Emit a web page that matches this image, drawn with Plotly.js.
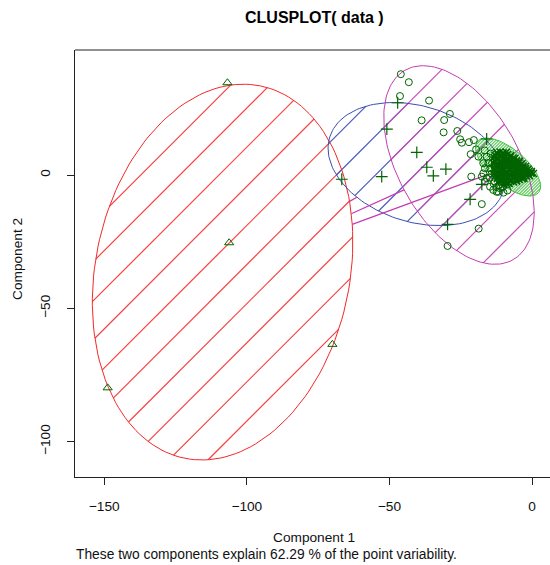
<!DOCTYPE html>
<html><head><meta charset="utf-8">
<script src="https://cdn.plot.ly/plotly-3.0.1.min.js"></script>
<style>html,body{margin:0;padding:0;background:#fff;overflow:hidden}#plot{width:550px;height:565px}</style>
</head><body><div id="plot"></div>
<script>
// ---------------- DATA ----------------
// cluster 1 points (triangles)
const c1X = [-106.8, -106.2, -148.8, -70.0];
const c1Y = [34.6, -25.4, -79.8, -63.5];
// cluster 2 points (plus)
const c2X = [-47.1, -50.9, -40.4, -36.9, -34.6, -30.2, -52.7, -66.7, -17.6, -21.7, -29.6, -15.9];
const c2Y = [27.1, 17.2, 8.5, 2.9, -0.3, 2.2, -0.6, -1.6, -3.5, -9.1, -18.5, 13.5];
// cluster 3 points (circles)
const c3X = [-46.0, -43.2, -46.3, -36.1, -28.8, -30.8, -38.7, -26.2, -31.0, -25.2, -24.6, -22.1, -20.4,
             -21.5, -19.6, -21.3, -17.6, -18.7, -29.6, -12.4,
             -18.8, -17.1, -16.5, -17.6, -16.5, -14.7, -13.6, -11.2, -11.8,
             -15.9, -15.3, -17.1, -15.9, -13.0, -16.6, -14.5, -10.0, -8.6,
             -14.2, -14.6, -14.0, -14.8, -12.5, -11.5, -13.5, -10.3];
const c3Y = [37.8, 34.8, 29.6, 27.9, 22.9, 20.6, 20.5, 16.5, 16.0, 13.4, 12.1, 12.3, 13.1,
             7.8, 9.6, -0.6, -10.9, -20.1, -26.6, -6.3,
             6.9, 4.4, 2.5, -0.6, -2.5, -4.4, -5.6, -5.0, -6.3,
             6.9, 4.4, 0.6, -1.2, -2.5, 9.2, 8.0, -6.6, -5.8,
             0.5, 2.5, 4.5, -1.0, -4.5, -3.8, -3.2, -4.6];
// cluster 4 points (x)
const c4X = [-12.3, -11.2, -10.1, -9.0,
  -13.0, -11.9, -10.8, -9.6, -8.5, -7.5,
  -13.3, -12.1, -11.0, -9.9, -8.8, -7.7, -6.6, -6.0,
  -13.1, -12.0, -10.9, -9.8, -8.7, -7.6, -6.5, -5.4, -4.5,
  -13.4, -12.3, -11.2, -10.1, -9.0, -7.9, -6.8, -5.7, -4.6, -3.5,
  -13.0, -11.9, -10.8, -9.7, -8.6, -7.5, -6.4, -5.3, -4.2, -3.1, -2.3,
  -13.3, -12.2, -11.1, -10.0, -8.9, -7.8, -6.7, -5.6, -4.5, -3.4, -2.3, -1.4,
  -13.1, -12.0, -10.9, -9.8, -8.7, -7.6, -6.5, -5.4, -4.3, -3.2, -2.1, -1.0, -0.2,
  -13.4, -12.3, -11.2, -10.1, -9.0, -7.9, -6.8, -5.7, -4.6, -3.5, -2.4, -1.3, -0.3, 0.5,
  -13.0, -11.9, -10.8, -9.7, -8.6, -7.5, -6.4, -5.3, -4.2, -3.1, -2.0, -0.9,
  -12.2, -11.1, -10.0, -8.9, -7.8, -6.7, -5.6, -4.5, -3.4, -2.8,
  -11.9, -10.8, -9.7, -8.6, -7.5, -6.4, -5.4,
  -9.9, -8.8, -8.0];
const c4Y = [8.4, 8.6, 8.3, 8.5,
  7.4, 7.6, 7.3, 7.5, 7.7, 7.3,
  6.6, 6.4, 6.7, 6.5, 6.3, 6.6, 6.4, 6.2,
  5.4, 5.6, 5.3, 5.5, 5.7, 5.4, 5.6, 5.3, 5.1,
  4.5, 4.3, 4.6, 4.4, 4.6, 4.3, 4.5, 4.7, 4.4, 4.2,
  3.6, 3.4, 3.5, 3.7, 3.4, 3.6, 3.3, 3.5, 3.7, 3.4, 3.2,
  2.4, 2.6, 2.3, 2.5, 2.7, 2.4, 2.6, 2.3, 2.5, 2.7, 2.4, 2.2,
  1.6, 1.4, 1.5, 1.7, 1.4, 1.6, 1.3, 1.5, 1.7, 1.4, 1.6, 1.5, 1.3,
  0.5, 0.3, 0.6, 0.4, 0.6, 0.3, 0.5, 0.7, 0.4, 0.6, 0.3, 0.5, 0.7, 0.6,
  -0.4, -0.6, -0.3, -0.5, -0.7, -0.4, -0.6, -0.3, -0.5, -0.7, -0.4, -0.3,
  -1.4, -1.5, -1.7, -1.4, -1.6, -1.3, -1.5, -1.7, -1.4, -1.2,
  -2.6, -2.3, -2.5, -2.7, -2.4, -2.6, -2.3,
  -3.7, -3.4, -3.2];
// cluster ellipses: centre and two conjugate semi-axis vectors (data units)
const ellCx = [-108.5, -40.5, -25.6, -8.4];
const ellCy = [-36.4, 4.1, 3.75, 3.0];
const ellAx = [13.3, 30.4, -19.0, 10.7];
const ellAy = [69.8, -10.2, 35.5, -9.6];
const ellBx = [43.7, -6.1, 18.3, -4.0];
const ellBy = [-9.5, -20.7, 11.2, -5.1];
// shading line spacing per cluster (x units along y = 0)
const hatchStep = [13.72, 13.72, 13.72, 1.08];
const xTicks = [-150, -100, -50, 0];
const yTicks = [-100, -50, 0];
const titleText = 'CLUSPLOT( data )';
const xLabel = 'Component 1';
const yLabel = 'Component 2';
const subText = 'These two components explain 62.29 % of the point variability.';

// ---------------- STYLE / LAYOUT ----------------
const W = 550, H = 565;
const M = {l: 75, r: 0, t: 50, b: 88};
const xRange = [-160.25, 6.31], yRange = [-113.23, 46.87];
const ellCol = ['#F42828', '#3A4DB2', '#C23DB2', '#3EC43E'];
const hatchCol = ['#F84040', '#4A5CBA', '#C84CB8', '#62CC62'];
const hatchWidth = [1.2, 1.2, 1.2, 1.2];
const ptCol = '#006400';
const FONT = 'Liberation Sans, Arial, Helvetica, sans-serif';

const pw = W - M.l - M.r, ph = H - M.t - M.b;
const pxX = pw / (xRange[1] - xRange[0]);
const pxY = ph / (yRange[1] - yRange[0]);

function ell(i) {
  return {cx: ellCx[i], cy: ellCy[i], ax: ellAx[i], ay: ellAy[i], bx: ellBx[i], by: ellBy[i]};
}
function toLocal(e, vx, vy) {
  const det = e.ax * e.by - e.bx * e.ay;
  return [(e.by * vx - e.bx * vy) / det, (-e.ay * vx + e.ax * vy) / det];
}
function outline(e) {
  const xs = [], ys = [];
  for (let k = 0; k <= 160; k++) {
    const t = 2 * Math.PI * k / 160;
    xs.push(e.cx + e.ax * Math.cos(t) + e.bx * Math.sin(t));
    ys.push(e.cy + e.ay * Math.cos(t) + e.by * Math.sin(t));
  }
  return [xs, ys];
}
// shading segments (45 degrees on screen) clipped to an ellipse
function hatchSegs(e, step) {
  const dx = 1 / pxX, dy = 1 / pxY, r = dx / dy;
  const hw = Math.hypot(e.ax, e.bx), hh = Math.hypot(e.ay, e.by);
  const lo = e.cx - hw - (e.cy + hh) * r, hi = e.cx + hw - (e.cy - hh) * r;
  const segs = [];
  const q1 = toLocal(e, dx, dy);
  for (let k = Math.ceil(lo / step); k * step <= hi; k++) {
    const x0 = k * step;
    const q0 = toLocal(e, x0 - e.cx, -e.cy);
    const A = q1[0] * q1[0] + q1[1] * q1[1];
    const B = 2 * (q0[0] * q1[0] + q0[1] * q1[1]);
    const C = q0[0] * q0[0] + q0[1] * q0[1] - 1;
    const D = B * B - 4 * A * C;
    if (D <= 0) continue;
    const t1 = (-B - Math.sqrt(D)) / (2 * A), t2 = (-B + Math.sqrt(D)) / (2 * A);
    segs.push([x0 + t1 * dx, t1 * dy, x0 + t2 * dx, t2 * dy]);
  }
  return segs;
}

const traces = [];
const shapes = [{type: 'line', xref: 'paper', yref: 'paper', x0: 0, x1: 1.02, y0: 1, y1: 1,
    line: {color: '#222', width: 1}}];
for (let i = 0; i < ellCx.length; i++) {
  const e = ell(i);
  hatchSegs(e, hatchStep[i]).forEach(s => shapes.push({type: 'line', xref: 'x', yref: 'y', layer: 'below',
    x0: s[0], y0: s[1], x1: s[2], y1: s[3], line: {color: hatchCol[i], width: hatchWidth[i]}}));
  const o = outline(e);
  traces.push({x: o[0], y: o[1], mode: 'lines', line: {color: ellCol[i], width: 1}, hoverinfo: 'skip'});
}
// distance lines between ellipse boundaries (along the line joining centres)
for (let i = 0; i < ellCx.length; i++) {
  for (let j = i + 1; j < ellCx.length; j++) {
    const ei = ell(i), ej = ell(j);
    const vx = ej.cx - ei.cx, vy = ej.cy - ei.cy;
    const wi = toLocal(ei, vx, vy), wj = toLocal(ej, -vx, -vy);
    const ti = 1 / Math.hypot(wi[0], wi[1]), tj = 1 / Math.hypot(wj[0], wj[1]);
    if (ti + tj < 1) {
      traces.push({x: [ei.cx + ti * vx, ej.cx - tj * vx], y: [ei.cy + ti * vy, ej.cy - tj * vy],
        mode: 'lines', line: {color: ellCol[2], width: 1.2}, hoverinfo: 'skip'});
    }
  }
}

function pts(x, y, sym, size, lw) {
  return {x: x, y: y, mode: 'markers', hoverinfo: 'skip',
    marker: {symbol: sym, size: size, color: ptCol, line: {color: ptCol, width: lw}}};
}
traces.push(pts(c3X, c3Y, 'circle-open', 7, 1));
traces.push(pts(c4X, c4Y, 'x-thin-open', 7, 1.5));
traces.push(pts(c2X, c2Y, 'cross-thin-open', 8.5, 1.2));
traces.push(pts(c1X, c1Y, 'triangle-up-open', 8, 1));

const py = p => (H - M.b - p) / ph;   // pixel row -> paper y
const pxp = p => (p - M.l) / pw;      // pixel col -> paper x

const layout = {
  width: W, height: H, margin: M, showlegend: false,
  paper_bgcolor: '#fff', plot_bgcolor: '#fff',
  font: {family: FONT, size: 13.7, color: '#111'},
  xaxis: {range: xRange, tickvals: xTicks, ticks: 'outside', ticklen: 7, tickcolor: '#222',
    showline: true, linecolor: '#222', linewidth: 1, showgrid: false, zeroline: false,
    tickfont: {size: 13.7}, ticklabelstandoff: 10},
  yaxis: {range: yRange, tickvals: yTicks, ticks: 'outside', ticklen: 7, tickcolor: '#222',
    showline: true, linecolor: '#222', linewidth: 1, showgrid: false, zeroline: false,
    tickangle: -90, tickfont: {size: 13.7}, ticklabelstandoff: 12},
  shapes: shapes,
  annotations: [
    {text: '<b>' + titleText + '</b>', xref: 'paper', yref: 'paper', x: pxp(314.5), y: py(18),
      xanchor: 'center', yanchor: 'middle', showarrow: false, font: {size: 16, color: '#000'}},
    {text: xLabel, xref: 'paper', yref: 'paper', x: pxp(314), y: py(537),
      xanchor: 'center', yanchor: 'middle', showarrow: false, font: {size: 13.7}},
    {text: subText, xref: 'paper', yref: 'paper', x: pxp(74), y: py(554),
      xanchor: 'left', yanchor: 'middle', showarrow: false, font: {size: 13.8}},
    {text: yLabel, xref: 'paper', yref: 'paper', x: pxp(17), y: py(259), textangle: -90,
      xanchor: 'center', yanchor: 'middle', showarrow: false, font: {size: 13.7}}
  ]
};
Plotly.newPlot('plot', traces, layout, {staticPlot: true, displayModeBar: false});
</script></body></html>
